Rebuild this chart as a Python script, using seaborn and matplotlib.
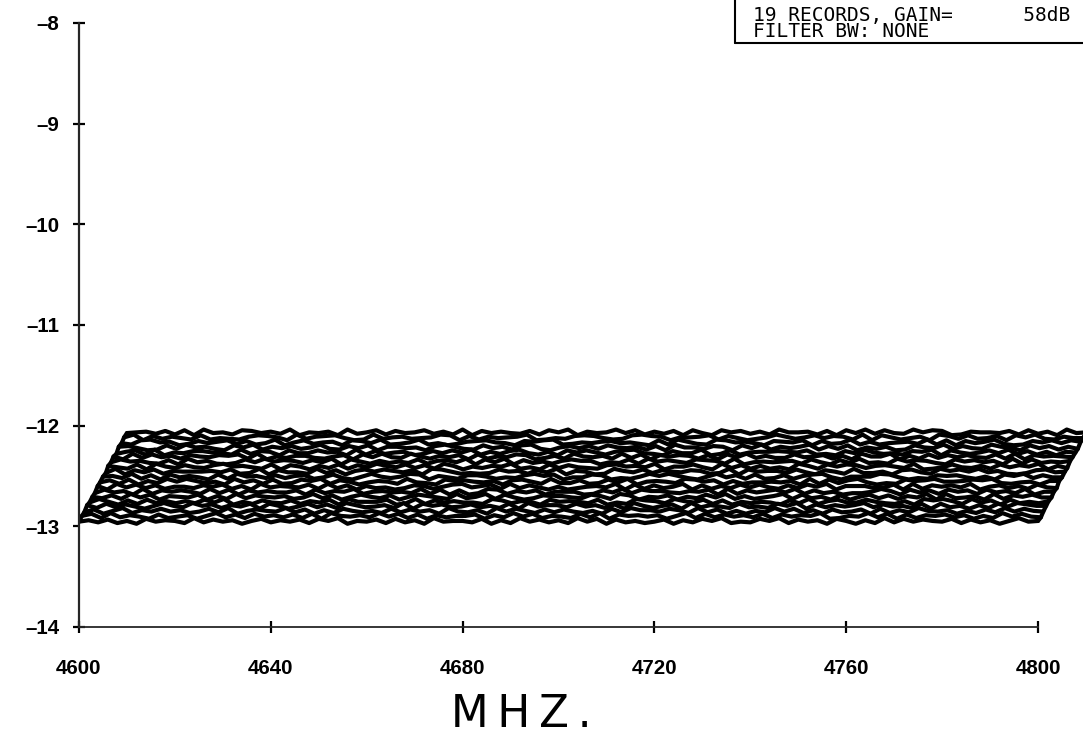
import numpy as np
import matplotlib
matplotlib.use("Agg")
import matplotlib.pyplot as plt
from matplotlib.lines import Line2D
import seaborn as sns

# Waterfall de 19 registros de ruido, 4600-4800 MHz

FREQ_INI = 4600
FREQ_FIM = 4800

# nivel de base de cada registro (frente -> fundo)
BASE_LEVEL = [-12.95, -12.90, -12.85, -12.80, -12.76, -12.71, -12.66, -12.61,
              -12.56, -12.51, -12.46, -12.41, -12.36, -12.31, -12.27, -12.22,
              -12.17, -12.12, -12.07]

# deslocamento em MHz de cada registro
SHIFT_MHZ = [0.0, 0.6, 1.1, 1.7, 2.2, 2.8, 3.3, 3.9, 4.4, 5.0,
             5.6, 6.1, 6.7, 7.2, 7.8, 8.3, 8.9, 9.4, 10.0]

# ruido de cada registro, um digito a cada 2 MHz (0..9, 4.5 = nivel de base)
NOISE = [
    "4637251846 5293746158 3647285915 4728361945 5381629473 6294817352 4716385924 3859274618 5162938475 4827361594 5",
    "5829364172 4615937284 6372819546 3948271635 5716394825 4283917564 6159283746 3827465912 5493817265 7361529484 3",
    "3715926484 6248391575 4937162853 5283746194 3619485273 7425183966 4862937151 5394826173 4718263954 6152739485 4",
    "6283741595 3957264818 5148372963 4629185734 7352819466 3846271952 5719364283 4285917364 6937452818 3516284975 5",
    "4951728363 6384915274 3726481955 5813927464 4297365185 6538142976 3964827153 5417392684 4853261979 6294718353 6",
    "5372948165 4816293754 6249371585 3715864293 5928413766 4386297154 7153849262 4692835171 5837264919 3461927584 4",
    "3846192757 5293817464 4718365925 6453928171 3982647155 5127493866 4365819274 6849273513 3596184728 5728463915 5",
    "6194837255 3758261946 5482937163 4137625894 6829374151 3564918273 5917263848 4273859166 6348192757 4915736284 3",
    "4728163959 6351947282 3869275146 5294318675 4617852933 7238491565 3985716244 5461928379 4132867955 6879324516 6",
    "5639271846 4182956373 6724831595 3598164277 5243796814 4871325969 6315947282 3726894155 5984132767 4251869374 4",
    "3917482655 5648239174 4293716858 6471985232 3856274916 5129648375 4762391856 6384175293 3517842968 5946213784 5",
    "6428195374 3795642817 5163827496 4837296153 6592418374 3278564915 5841937262 4196285873 6753912484 3628475916 3",
    "4856327194 6213849576 3749185263 5382674918 4917352686 6143829575 3876291454 5628417393 4295763185 7461928354 6",
    "5193846275 4768291536 6325718494 3952647182 5487136295 4629381757 6271849363 3845726195 5916283747 4382917565 4",
    "3682915477 5429376184 4856192735 6137485926 3794261858 5268943174 4913825667 6582317495 3427691853 5849372616 5",
    "6741283956 3185926473 5932748166 4517963284 6289315747 3854627195 5376184926 4692738153 6128549374 3965184726 3",
    "4289561374 6837249158 3561874923 5924136785 4176892354 6745318296 3298564176 5817349262 4563928174 6931275848 6",
    "5917364282 4326875193 6784129356 3459817264 5691243787 4238976155 6827413596 3584762918 5246197383 4718593264 4",
    "4563728194 5287463915 4619358274 5836291746 4372859164 5948263718 4185736295 5627184938 4395871265 5472836194 5",
]
NOISE_DB = 0.007  # dB por digito

X_TICKS = [4600, 4640, 4680, 4720, 4760, 4800]
Y_TICKS = [-14, -13, -12, -11, -10, -9, -8]

sns.set_style("ticks")
plt.rcParams['font.family'] = ['Liberation Sans', 'DejaVu Sans']
plt.rcParams['text.color'] = 'black'

fig = plt.figure(figsize=(10.83, 7.36), dpi=100)
ax = fig.add_axes([79 / 1083, 109 / 736, 1 - 79 / 1083, 604 / 736])

LW = 3.0
n_rec = len(BASE_LEVEL)
x_ini, y_ini, x_fim, y_fim = [], [], [], []
for i in range(n_rec - 1, -1, -1):
    dig = np.array([int(c) for c in "".join(NOISE[i].split())])
    xs = np.linspace(FREQ_INI, FREQ_FIM, len(dig)) + SHIFT_MHZ[i]
    ys = BASE_LEVEL[i] + (dig - 4.5) * NOISE_DB
    z = 2.0 - i * 0.05
    # remocao de linhas escondidas
    ax.fill_between(xs, ys, BASE_LEVEL[0] - 0.15, color="white", lw=0, zorder=z)
    sns.lineplot(x=xs, y=ys, ax=ax, color="black", lw=LW, estimator=None,
                 zorder=z + 0.02)
    x_ini.append(xs[0]); y_ini.append(ys[0])
    x_fim.append(xs[-1]); y_fim.append(ys[-1])

# bordas laterais do waterfall
sns.lineplot(x=x_ini, y=y_ini, ax=ax, color="black", lw=LW, estimator=None,
             sort=False, zorder=2.1)
sns.lineplot(x=x_fim, y=y_fim, ax=ax, color="black", lw=LW, estimator=None,
             sort=False, zorder=2.1)

ax.set_xlim(4600, 4600 + 1004 / 4.795)
ax.set_ylim(-14, -8)
ax.set_xticks(X_TICKS)
ax.set_yticks(Y_TICKS)
ax.set_xticklabels([str(t) for t in X_TICKS])
ax.set_yticklabels([str(t).replace("-", "\u2013") for t in Y_TICKS])
ax.set_xlabel("")
ax.set_ylabel("")

for s in ["top", "right"]:
    ax.spines[s].set_visible(False)
ax.spines["left"].set_bounds(-14, -8)
ax.spines["bottom"].set_bounds(4600, 4800)
ax.spines["left"].set_linewidth(1.6)
ax.spines["bottom"].set_linewidth(1.3)
ax.spines["left"].set_zorder(3)
ax.spines["bottom"].set_zorder(3)

ax.tick_params(axis="both", direction="inout", length=8, width=1.6,
               labelsize=14.8, colors="black")
ax.tick_params(axis="x", pad=19)
ax.tick_params(axis="y", pad=10)
for lab in ax.get_xticklabels() + ax.get_yticklabels():
    lab.set_fontweight("bold")

# titulo do eixo x
fig.text(521 / 1083, 1 - 727 / 736, "M\u2009H\u2009Z\u2009.", ha="center",
         va="baseline", fontsize=31.5, family="DejaVu Sans", color="black")

# caixa de informacao no canto
fig.text(753 / 1083, 1 - 37 / 736, "19 RECORDS, GAIN=      58dB\nFILTER BW: NONE",
         ha="left", va="baseline", fontsize=14, family="DejaVu Sans Mono",
         color="black", linespacing=0.8)
fig.add_artist(Line2D([735 / 1083, 735 / 1083], [1.0, 1 - 43 / 736],
                      transform=fig.transFigure, color="black", lw=1.5))
fig.add_artist(Line2D([735 / 1083, 1.0], [1 - 43 / 736, 1 - 43 / 736],
                      transform=fig.transFigure, color="black", lw=1.5))

plt.savefig("out.png", dpi=100, facecolor="white")
